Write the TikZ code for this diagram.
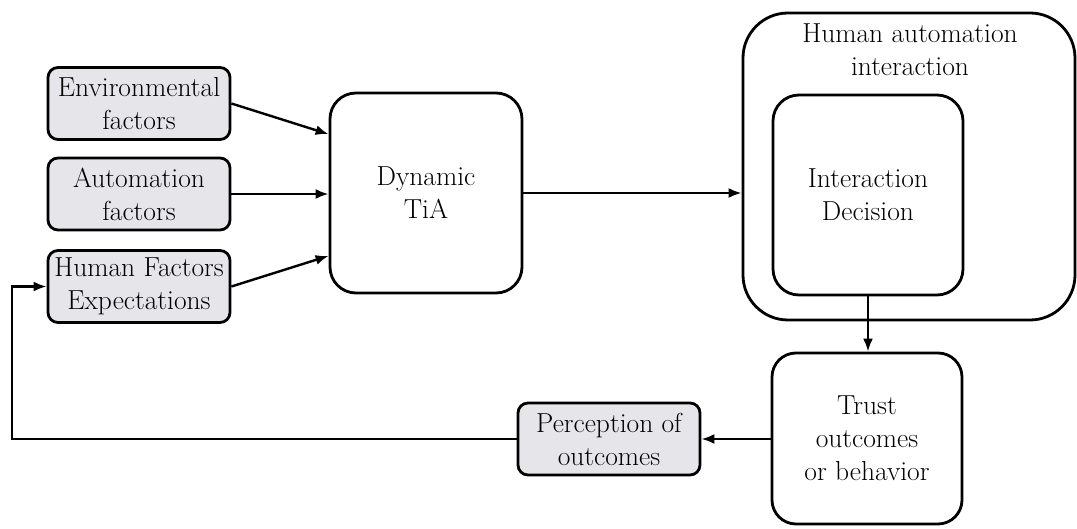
\documentclass[tikz,border=0pt]{standalone}
\usepackage{fontspec}
\usetikzlibrary{arrows.meta,calc}
\definecolor{factorgray}{HTML}{E6E5EA}
\begin{document}
\begin{tikzpicture}[x=1pt,y=-1pt,
  every node/.style={inner sep=0pt, align=center,
    font=\fontsize{27.5}{33}\selectfont},
  factor/.style={draw, line width=2.8pt, fill=factorgray,
    rounded corners=10pt, minimum width=182pt, minimum height=72pt},
  bigbox/.style={draw, line width=2.8pt, fill=white, rounded corners=26pt},
  flow/.style={line width=2.4pt, -{Latex[length=13pt,width=10pt]}}]
  \useasboundingbox (0,0) rectangle (1077,529);

  % input factors
  \node[factor] (env) at (139,103.5) {Environmental\\factors};
  \node[factor] (aut) at (139,194) {Automation\\factors};
  \node[factor] (hum) at (139,286.5) {Human Factors\\Expectations};

  % trust in automation
  \node[bigbox, minimum width=192pt, minimum height=200pt] (dyn) at (426,193) {Dynamic\\TiA};

  % human automation interaction with the nested decision
  \node[bigbox, rounded corners=45pt, minimum width=332pt, minimum height=307pt] (hai) at (909,166.5) {};
  \node (haititle) at (910,50) {Human automation\\interaction};
  \node[bigbox, minimum width=190pt, minimum height=200pt] (dec) at (868,195) {Interaction\\Decision};

  % outcomes
  \node[bigbox, rounded corners=24pt, minimum width=190pt, minimum height=171pt] (trust) at (867,438.5) {Trust\\outcomes\\or behavior};
  \node[factor] (perc) at (609,439) {Perception of\\outcomes};
  \coordinate (loop) at (12,440);

  % connectors
  \draw[flow] (env.east) -- ($(dyn.north west)!0.21!(dyn.south west)$);
  \draw[flow] (aut.east) -- (aut.east -| dyn.west);
  \draw[flow] (hum.east) -- ($(dyn.north west)!0.81!(dyn.south west)$);
  \draw[flow] (dyn.east) -- (dyn.east -| hai.west);
  \draw[flow] (dec.south) -- (dec.south |- trust.north);
  \draw[flow] (trust.west |- perc.east) -- (perc.east);
  \draw[flow] (perc.west) -- (perc.west -| loop) |- (hum.west);
\end{tikzpicture}
\end{document}
